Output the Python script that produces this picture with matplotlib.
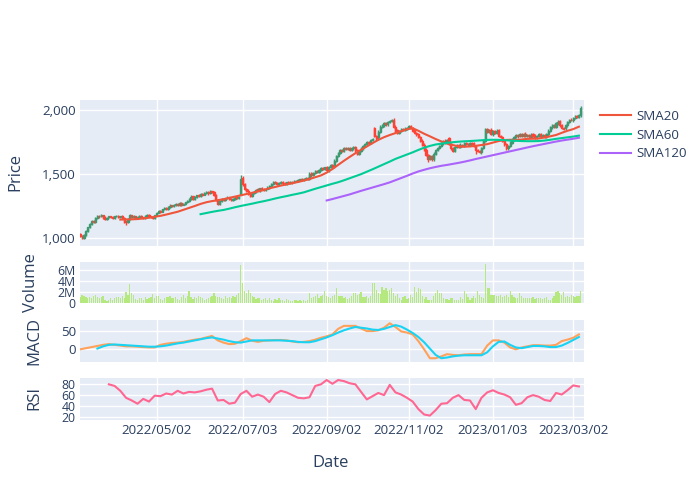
import matplotlib
matplotlib.use('Agg')
import matplotlib.pyplot as plt
import numpy as np
import pandas as pd

plt.rcParams['font.family'] = ['Open Sans', 'DejaVu Sans']

# trading days, weekends removed (x axis has weekend rangebreaks)
dates = pd.bdate_range('2022-03-07', '2023-03-08')

opens = [
    1030, 1018, 1002, 1026, 1055, 1086, 1110, 1138, 1126, 1160,
    1176, 1171, 1179, 1161, 1150, 1163, 1171, 1166, 1158, 1170,
    1176, 1168, 1173, 1156, 1132, 1126, 1150, 1178, 1165, 1171,
    1160, 1168, 1176, 1163, 1155, 1172, 1181, 1171, 1166, 1158,
    1178, 1200, 1216, 1208, 1225, 1236, 1228, 1245, 1256, 1250,
    1262, 1270, 1258, 1276, 1262, 1268, 1280, 1290, 1310, 1326,
    1305, 1320, 1336, 1330, 1345, 1341, 1352, 1361, 1350, 1366,
    1358, 1340, 1300, 1270, 1290, 1306, 1300, 1312, 1319, 1306,
    1298, 1310, 1319, 1312, 1340, 1470, 1422, 1388, 1372, 1346,
    1330, 1355, 1366, 1381, 1372, 1391, 1383, 1376, 1388, 1395,
    1410, 1425, 1439, 1431, 1420, 1432, 1441, 1429, 1422, 1436,
    1430, 1441, 1437, 1448, 1446, 1452, 1461, 1456, 1462, 1469,
    1462, 1506, 1490, 1510, 1526, 1520, 1535, 1549, 1540, 1553,
    1530, 1555, 1571, 1560, 1605, 1641, 1668, 1691, 1680, 1701,
    1695, 1706, 1690, 1700, 1713, 1686, 1660, 1680, 1700, 1720,
    1735, 1751, 1742, 1766, 1860, 1800, 1786, 1830, 1870, 1880,
    1896, 1888, 1905, 1915, 1926, 1870, 1841, 1820, 1835, 1851,
    1845, 1855, 1862, 1876, 1860, 1841, 1821, 1811, 1791, 1761,
    1730, 1691, 1651, 1621, 1641, 1616, 1660, 1690, 1705, 1721,
    1740, 1761, 1746, 1780, 1736, 1701, 1680, 1710, 1726, 1715,
    1730, 1722, 1741, 1736, 1728, 1746, 1739, 1721, 1691, 1681,
    1670, 1705, 1762, 1851, 1830, 1846, 1811, 1836, 1821, 1841,
    1801, 1791, 1761, 1736, 1700, 1720, 1745, 1770, 1790, 1806,
    1795, 1811, 1801, 1816, 1796, 1806, 1790, 1811, 1801, 1786,
    1800, 1812, 1796, 1805, 1791, 1810, 1840, 1865, 1881, 1870,
    1895, 1911, 1881, 1861, 1856, 1880, 1905, 1926, 1920, 1941,
    1951, 1945, 1958]

closes = [
    1015, 1000, 1025, 1055, 1085, 1110, 1135, 1125, 1160, 1175,
    1170, 1178, 1160, 1150, 1162, 1170, 1165, 1158, 1170, 1175,
    1168, 1172, 1155, 1130, 1125, 1150, 1178, 1165, 1172, 1160,
    1168, 1175, 1162, 1155, 1172, 1180, 1170, 1165, 1158, 1178,
    1200, 1215, 1208, 1225, 1235, 1228, 1245, 1255, 1250, 1262,
    1270, 1258, 1275, 1262, 1268, 1280, 1290, 1310, 1325, 1305,
    1320, 1335, 1330, 1345, 1340, 1352, 1360, 1350, 1365, 1358,
    1340, 1300, 1270, 1290, 1305, 1300, 1312, 1318, 1305, 1298,
    1310, 1318, 1312, 1325, 1465, 1420, 1385, 1370, 1345, 1330,
    1355, 1365, 1380, 1372, 1390, 1382, 1375, 1388, 1395, 1410,
    1425, 1438, 1430, 1420, 1432, 1440, 1428, 1422, 1435, 1430,
    1440, 1436, 1448, 1445, 1452, 1460, 1455, 1462, 1468, 1460,
    1505, 1490, 1510, 1525, 1520, 1535, 1548, 1540, 1552, 1530,
    1555, 1570, 1560, 1605, 1640, 1668, 1690, 1680, 1700, 1695,
    1705, 1690, 1700, 1712, 1685, 1660, 1680, 1700, 1720, 1735,
    1750, 1742, 1765, 1775, 1800, 1785, 1830, 1870, 1880, 1895,
    1888, 1905, 1915, 1925, 1870, 1840, 1820, 1835, 1850, 1845,
    1855, 1862, 1875, 1860, 1840, 1820, 1810, 1790, 1760, 1730,
    1690, 1650, 1620, 1640, 1615, 1660, 1690, 1705, 1720, 1740,
    1760, 1745, 1765, 1735, 1700, 1680, 1710, 1725, 1715, 1730,
    1722, 1740, 1735, 1728, 1745, 1738, 1720, 1690, 1680, 1670,
    1705, 1760, 1850, 1830, 1845, 1810, 1835, 1820, 1840, 1800,
    1790, 1760, 1735, 1700, 1720, 1745, 1770, 1790, 1805, 1795,
    1810, 1800, 1815, 1795, 1805, 1790, 1810, 1800, 1785, 1800,
    1812, 1795, 1805, 1790, 1810, 1840, 1865, 1880, 1870, 1895,
    1910, 1880, 1860, 1855, 1880, 1905, 1925, 1920, 1940, 1950,
    1945, 1960, 2015]

# wick lengths above / below the body
wick_hi = [
    8, 6, 5, 7, 6, 9, 5, 8, 6, 7,
    5, 8, 6, 9, 7, 5, 6, 8, 7, 6,
    9, 5, 7, 8, 6, 7, 10, 6, 8, 5,
    7, 6, 8, 5, 9, 6, 7, 5, 8, 6,
    7, 9, 5, 6, 8, 7, 6, 9, 5, 7,
    6, 8, 7, 5, 9, 6, 8, 7, 10, 6,
    8, 5, 7, 9, 6, 8, 7, 5, 9, 6,
    7, 8, 6, 5, 9, 7, 6, 8, 5, 7,
    6, 9, 7, 8, 30, 12, 8, 6, 9, 7,
    8, 6, 7, 9, 5, 8, 6, 7, 9, 6,
    7, 8, 5, 9, 6, 7, 8, 6, 5, 9,
    6, 7, 9, 5, 8, 6, 7, 8, 6, 9,
    12, 8, 7, 9, 6, 8, 7, 10, 6, 9,
    8, 7, 9, 10, 12, 8, 9, 7, 10, 8,
    9, 7, 8, 10, 9, 8, 7, 9, 8, 10,
    9, 8, 10, 9, 10, 9, 12, 10, 8, 9,
    10, 9, 8, 7, 9, 10, 8, 9, 10, 8,
    9, 8, 10, 9, 8, 9, 10, 8, 9, 10,
    9, 10, 8, 9, 10, 9, 8, 10, 9, 8,
    9, 10, 9, 10, 8, 9, 10, 8, 9, 10,
    8, 9, 10, 8, 9, 8, 10, 9, 8, 9,
    10, 12, 10, 9, 8, 10, 9, 8, 9, 10,
    8, 9, 10, 8, 9, 10, 9, 8, 9, 10,
    9, 8, 9, 10, 8, 9, 8, 10, 9, 8,
    9, 10, 8, 9, 10, 9, 10, 8, 9, 10,
    9, 10, 8, 9, 10, 9, 8, 10, 9, 8,
    10, 9, 13]

wick_lo = [
    6, 8, 5, 7, 9, 6, 8, 7, 5, 6,
    8, 6, 7, 9, 5, 8, 6, 7, 9, 5,
    7, 8, 6, 9, 25, 7, 5, 8, 6, 9,
    6, 7, 5, 8, 6, 9, 7, 6, 8, 5,
    7, 6, 8, 5, 7, 9, 6, 8, 7, 6,
    8, 7, 5, 9, 6, 8, 7, 6, 9, 8,
    7, 6, 8, 9, 7, 6, 8, 9, 5, 7,
    8, 9, 12, 8, 7, 6, 8, 5, 9, 7,
    6, 8, 7, 9, 6, 10, 9, 8, 7, 9,
    8, 7, 9, 6, 8, 7, 9, 8, 6, 7,
    8, 6, 9, 7, 8, 6, 7, 9, 8, 6,
    7, 9, 6, 8, 7, 9, 8, 6, 7, 8,
    9, 10, 8, 9, 10, 8, 9, 10, 8, 9,
    10, 8, 9, 10, 9, 8, 10, 9, 8, 10,
    9, 10, 8, 9, 10, 12, 9, 8, 10, 9,
    8, 10, 9, 8, 12, 15, 9, 10, 8, 9,
    10, 9, 8, 9, 10, 12, 10, 9, 8, 10,
    9, 8, 10, 9, 8, 10, 9, 10, 12, 10,
    12, 10, 22, 10, 12, 10, 9, 8, 10, 9,
    10, 9, 8, 10, 12, 10, 9, 8, 10, 9,
    8, 10, 9, 8, 10, 9, 10, 35, 10, 9,
    10, 9, 8, 10, 9, 8, 10, 9, 8, 10,
    9, 10, 12, 10, 9, 8, 10, 9, 8, 10,
    9, 8, 10, 9, 8, 10, 9, 8, 10, 9,
    8, 10, 9, 8, 10, 9, 8, 10, 9, 8,
    10, 9, 10, 8, 9, 10, 8, 9, 10, 9,
    8, 9, 10]

# volume in millions
volume = [
    1.2, 1.5, 1.3, 1.1, 0.9, 1.2, 1.0, 1.3, 1.6, 1.1,
    0.9, 1.2, 1.4, 0.6, 0.5, 0.6, 0.9, 0.7, 1.0, 1.2,
    1.1, 1.0, 1.4, 0.9, 2.1, 1.6, 3.5, 1.9, 1.5, 0.8,
    0.7, 0.9, 1.0, 0.6, 1.1, 0.8, 1.0, 1.2, 1.7, 0.9,
    1.3, 1.4, 0.8, 0.7, 1.0, 1.1, 1.2, 1.3, 1.0, 0.9,
    1.2, 0.8, 0.7, 1.1, 1.5, 1.0, 1.3, 2.2, 1.2, 0.8,
    1.1, 1.0, 1.3, 1.2, 0.9, 0.7, 0.8, 1.0, 1.1, 1.3,
    1.9, 1.3, 1.2, 1.1, 0.9, 0.8, 1.3, 1.0, 1.2, 0.9,
    1.4, 1.2, 1.5, 1.9, 6.9, 3.7, 2.3, 1.9, 2.4, 1.8,
    1.3, 1.1, 0.8, 0.9, 1.0, 0.6, 0.8, 0.9, 0.7, 1.0,
    0.6, 0.5, 0.8, 0.7, 0.9, 0.6, 0.7, 0.5, 0.8, 0.6,
    0.5, 0.4, 0.6, 0.7, 0.5, 0.6, 0.4, 0.7, 0.5, 0.6,
    1.9, 1.0, 1.1, 1.3, 1.7, 1.0, 1.4, 1.6, 2.3, 1.3,
    1.2, 0.9, 1.3, 1.6, 2.8, 1.4, 1.3, 1.4, 1.0, 1.1,
    0.8, 0.9, 1.3, 1.9, 1.8, 1.6, 1.7, 2.1, 1.1, 1.2,
    1.4, 1.0, 1.3, 3.6, 3.7, 2.5, 1.9, 1.7, 3.0, 2.4,
    2.8, 2.2, 2.5, 2.8, 1.9, 1.3, 1.7, 0.9, 0.6, 1.1,
    1.3, 0.8, 1.0, 1.5, 1.2, 2.9, 2.0, 2.8, 2.6, 1.3,
    0.8, 1.1, 0.7, 0.6, 0.7, 1.3, 1.9, 2.5, 1.8, 1.9,
    0.9, 0.8, 0.8, 0.7, 0.9, 0.9, 0.6, 0.7, 0.7, 1.2,
    0.8, 2.3, 1.7, 1.1, 0.7, 0.9, 1.3, 1.0, 2.2, 1.6,
    1.1, 1.0, 7.0, 2.8, 2.7, 1.6, 1.5, 1.5, 1.3, 1.4,
    1.5, 1.2, 1.3, 1.5, 1.2, 2.3, 1.5, 1.2, 0.9, 1.0,
    1.9, 1.4, 1.0, 1.0, 0.9, 1.0, 1.0, 1.1, 0.8, 1.0,
    0.9, 1.0, 0.8, 1.0, 1.2, 0.6, 0.7, 0.9, 1.4, 2.0,
    2.2, 1.8, 1.5, 2.1, 1.2, 1.4, 1.1, 1.6, 1.3, 1.2,
    1.4, 1.3, 2.2]

# indicator lines, read every 3rd trading day (None = not yet defined)
sma20 = [None] * 7 + [
    1146, 1147, 1148, 1150, 1155, 1160, 1168, 1175, 1185, 1196,
    1207, 1222, 1237, 1252, 1268, 1281, 1290, 1297, 1305, 1315,
    1325, 1335, 1345, 1355, 1365, 1376, 1390, 1400, 1411, 1420,
    1430, 1439, 1450, 1462, 1476, 1490, 1512, 1540, 1572, 1604,
    1634, 1663, 1690, 1716, 1742, 1767, 1788, 1805, 1820, 1835,
    1850, 1858, 1838, 1815, 1795, 1774, 1755, 1740, 1727, 1716,
    1714, 1716, 1721, 1727, 1734, 1746, 1758, 1766, 1768, 1766,
    1770, 1775, 1776, 1778, 1786, 1795, 1805, 1822, 1838, 1851,
    1870]

sma60 = [None] * 21 + [
    1188, 1197, 1206, 1214, 1221, 1231, 1242, 1252, 1261, 1270,
    1280, 1289, 1299, 1310, 1320, 1329, 1339, 1348, 1358, 1372,
    1386, 1399, 1412, 1425, 1437, 1452, 1468, 1484, 1500, 1519,
    1538, 1558, 1578, 1598, 1619, 1636, 1653, 1670, 1689, 1706,
    1720, 1731, 1738, 1744, 1749, 1753, 1756, 1758, 1761, 1764,
    1767, 1768, 1767, 1765, 1762, 1760, 1758, 1757, 1757, 1758,
    1762, 1768, 1775, 1781, 1787, 1793, 1800]

sma120 = [None] * 43 + [
    1295, 1306, 1318, 1330, 1342, 1356, 1370, 1383, 1396, 1409,
    1422, 1436, 1453, 1470, 1487, 1505, 1521, 1534, 1546, 1556,
    1565, 1572, 1580, 1588, 1597, 1607, 1618, 1628, 1638, 1648,
    1658, 1668, 1678, 1688, 1698, 1708, 1718, 1727, 1736, 1745,
    1754, 1762, 1769, 1776, 1784]

macd = [
    0, 3, 6, 9, 12, 14, 12, 10, 8, 8,
    7, 6, 5, 5, 12, 15, 17, 18, 20, 23,
    26, 28, 32, 36, 24, 18, 14, 15, 22, 30,
    23, 20, 23, 24, 25, 25, 24, 21, 19, 20,
    22, 26, 31, 35, 40, 55, 63, 63, 63, 56,
    49, 49, 51, 58, 70, 60, 48, 45, 40, 22,
    0, -24, -24, -19, -13, -15, -16, -14, -13, -13,
    -13, 10, 24, 24, 18, 5, 0, 5, 8, 11,
    11, 10, 10, 12, 22, 26, 31, 40]

signal = [None] * 3 + [
    2, 8, 12, 13, 12, 11, 10, 9, 8, 7,
    7, 8, 10, 13, 16, 18, 21, 24, 27, 30,
    32, 29, 26, 22, 19, 18, 21, 24, 24, 24,
    24, 24, 24, 23, 22, 20, 19, 19, 22, 27,
    32, 38, 45, 51, 56, 60, 58, 56, 53, 52,
    55, 60, 65, 61, 53, 44, 33, 19, 2, -15,
    -24, -22, -19, -17, -16, -16, -16, -16, -8, 8,
    20, 21, 12, 5, 3, 6, 9, 9, 8, 6,
    6, 10, 17, 25, 33]

rsi = [None] * 5 + [
    80, 77, 68, 55, 50, 44, 53, 48, 59, 58,
    63, 61, 68, 63, 66, 65, 67, 70, 72, 50,
    51, 44, 46, 62, 68, 57, 61, 57, 47, 62,
    68, 65, 60, 55, 54, 56, 77, 80, 88, 81,
    88, 86, 82, 80, 66, 52, 58, 64, 60, 79,
    65, 61, 55, 48, 34, 24, 22, 32, 44, 45,
    55, 60, 51, 50, 34, 55, 65, 69, 64, 61,
    56, 42, 45, 56, 60, 57, 51, 49, 64, 61,
    69, 78, 76]

tick_dates = ['2022-05-02', '2022-07-03', '2022-09-02', '2022-11-02', '2023-01-03', '2023-03-02']
tick_labels = ['2022/05/02', '2022/07/03', '2022/09/02', '2022/11/02', '2023/01/03', '2023/03/02']

price_ticks = [1000, 1500, 2000]
price_labels = ['1,000', '1,500', '2,000']
vol_ticks = [0, 2, 4, 6]
vol_labels = ['0', '2M', '4M', '6M']

assert len(dates) == len(opens) == len(closes) == len(volume) == len(wick_hi) == len(wick_lo)

n = len(dates)
x = np.arange(n)
xs = x[::3]
o = np.array(opens, float)
c = np.array(closes, float)
hi = np.maximum(o, c) + np.array(wick_hi)
lo = np.minimum(o, c) - np.array(wick_lo)
tick_pos = dates.searchsorted(pd.to_datetime(tick_dates))

def series(vals):
    return np.array([np.nan if v is None else v for v in vals], float)

txt = '#2a3f5f'
bg = '#E5ECF6'

fig = plt.figure(figsize=(7, 5), dpi=100)
left, width = 80 / 700, 503.5 / 700
ax1 = fig.add_axes([left, 1 - 246 / 500, width, 146 / 500])
ax2 = fig.add_axes([left, 1 - 304 / 500, width, 42 / 500], sharex=ax1)
ax3 = fig.add_axes([left, 1 - 361.7 / 500, width, 41.7 / 500], sharex=ax1)
ax4 = fig.add_axes([left, 1 - 420 / 500, width, 42.3 / 500], sharex=ax1)

# candlesticks
up = c >= o
col = np.where(up, '#3D9970', '#FF4136')
ax1.vlines(x, lo, hi, colors=col, lw=1, zorder=2)
ax1.bar(x, np.abs(c - o), bottom=np.minimum(o, c), width=0.6, color=col,
        edgecolor=col, linewidth=1, zorder=3)

ax1.plot(xs, series(sma20), color='#EF553B', lw=1.5, label='SMA20', zorder=4)
ax1.plot(xs, series(sma60), color='#00CC96', lw=1.5, label='SMA60', zorder=4)
ax1.plot(xs, series(sma120), color='#AB63FA', lw=1.5, label='SMA120', zorder=4)

ax2.bar(x, volume, width=0.65, color='#B6E880', zorder=2)

ax3.plot(xs, series(macd), color='#FFA15A', lw=1.5, zorder=3)
ax3.plot(xs, series(signal), color='#19D3F3', lw=1.5, zorder=3)

ax4.plot(xs, series(rsi), color='#FF6692', lw=1.5, zorder=3)

ax1.set_ylim(940, 2078)
ax1.set_yticks(price_ticks)
ax1.set_yticklabels(price_labels)
ax2.set_ylim(-0.09, 7.43)
ax2.set_yticks(vol_ticks)
ax2.set_yticklabels(vol_labels)
ax3.set_ylim(-33.3, 78.8)
ax3.set_yticks([0, 50])
ax4.set_ylim(13.8, 92.3)
ax4.set_yticks([20, 40, 60, 80])

ax1.set_xlim(-0.1, 263.4)
ax1.set_xticks(tick_pos)
ax4.set_xticklabels(tick_labels)

for ax in [ax1, ax2, ax3, ax4]:
    ax.set_facecolor(bg)
    for s in ax.spines.values():
        s.set_visible(False)
    ax.grid(True, color='white', lw=1)
    ax.set_axisbelow(True)
    ax.tick_params(length=0, labelsize=9.6, colors=txt, pad=3)
for ax in [ax1, ax2, ax3]:
    ax.tick_params(labelbottom=False)
for ax in [ax2, ax4]:
    ax.tick_params(axis='y', labelsize=8.8, pad=3)

fig.text(15 / 700, 1 - 172 / 500, 'Price', rotation=90, ha='center', va='center', fontsize=12, color=txt)
fig.text(31 / 700, 1 - 283 / 500, 'Volume', rotation=90, ha='center', va='center', fontsize=12, color=txt)
fig.text(34 / 700, 1 - 341 / 500, 'MACD', rotation=90, ha='center', va='center', fontsize=12, color=txt)
fig.text(34 / 700, 1 - 398 / 500, 'RSI', rotation=90, ha='center', va='center', fontsize=12, color=txt)
fig.text(331 / 700, 1 - 463 / 500, 'Date', ha='center', va='center', fontsize=12, color=txt)

fig.legend(loc='upper left', bbox_to_anchor=(588 / 700, 1 - 98 / 500), frameon=False,
           fontsize=9.6, handlelength=2.3, labelspacing=0.42, handletextpad=0.4,
           labelcolor=txt)

fig.savefig('out.png', dpi=100)
